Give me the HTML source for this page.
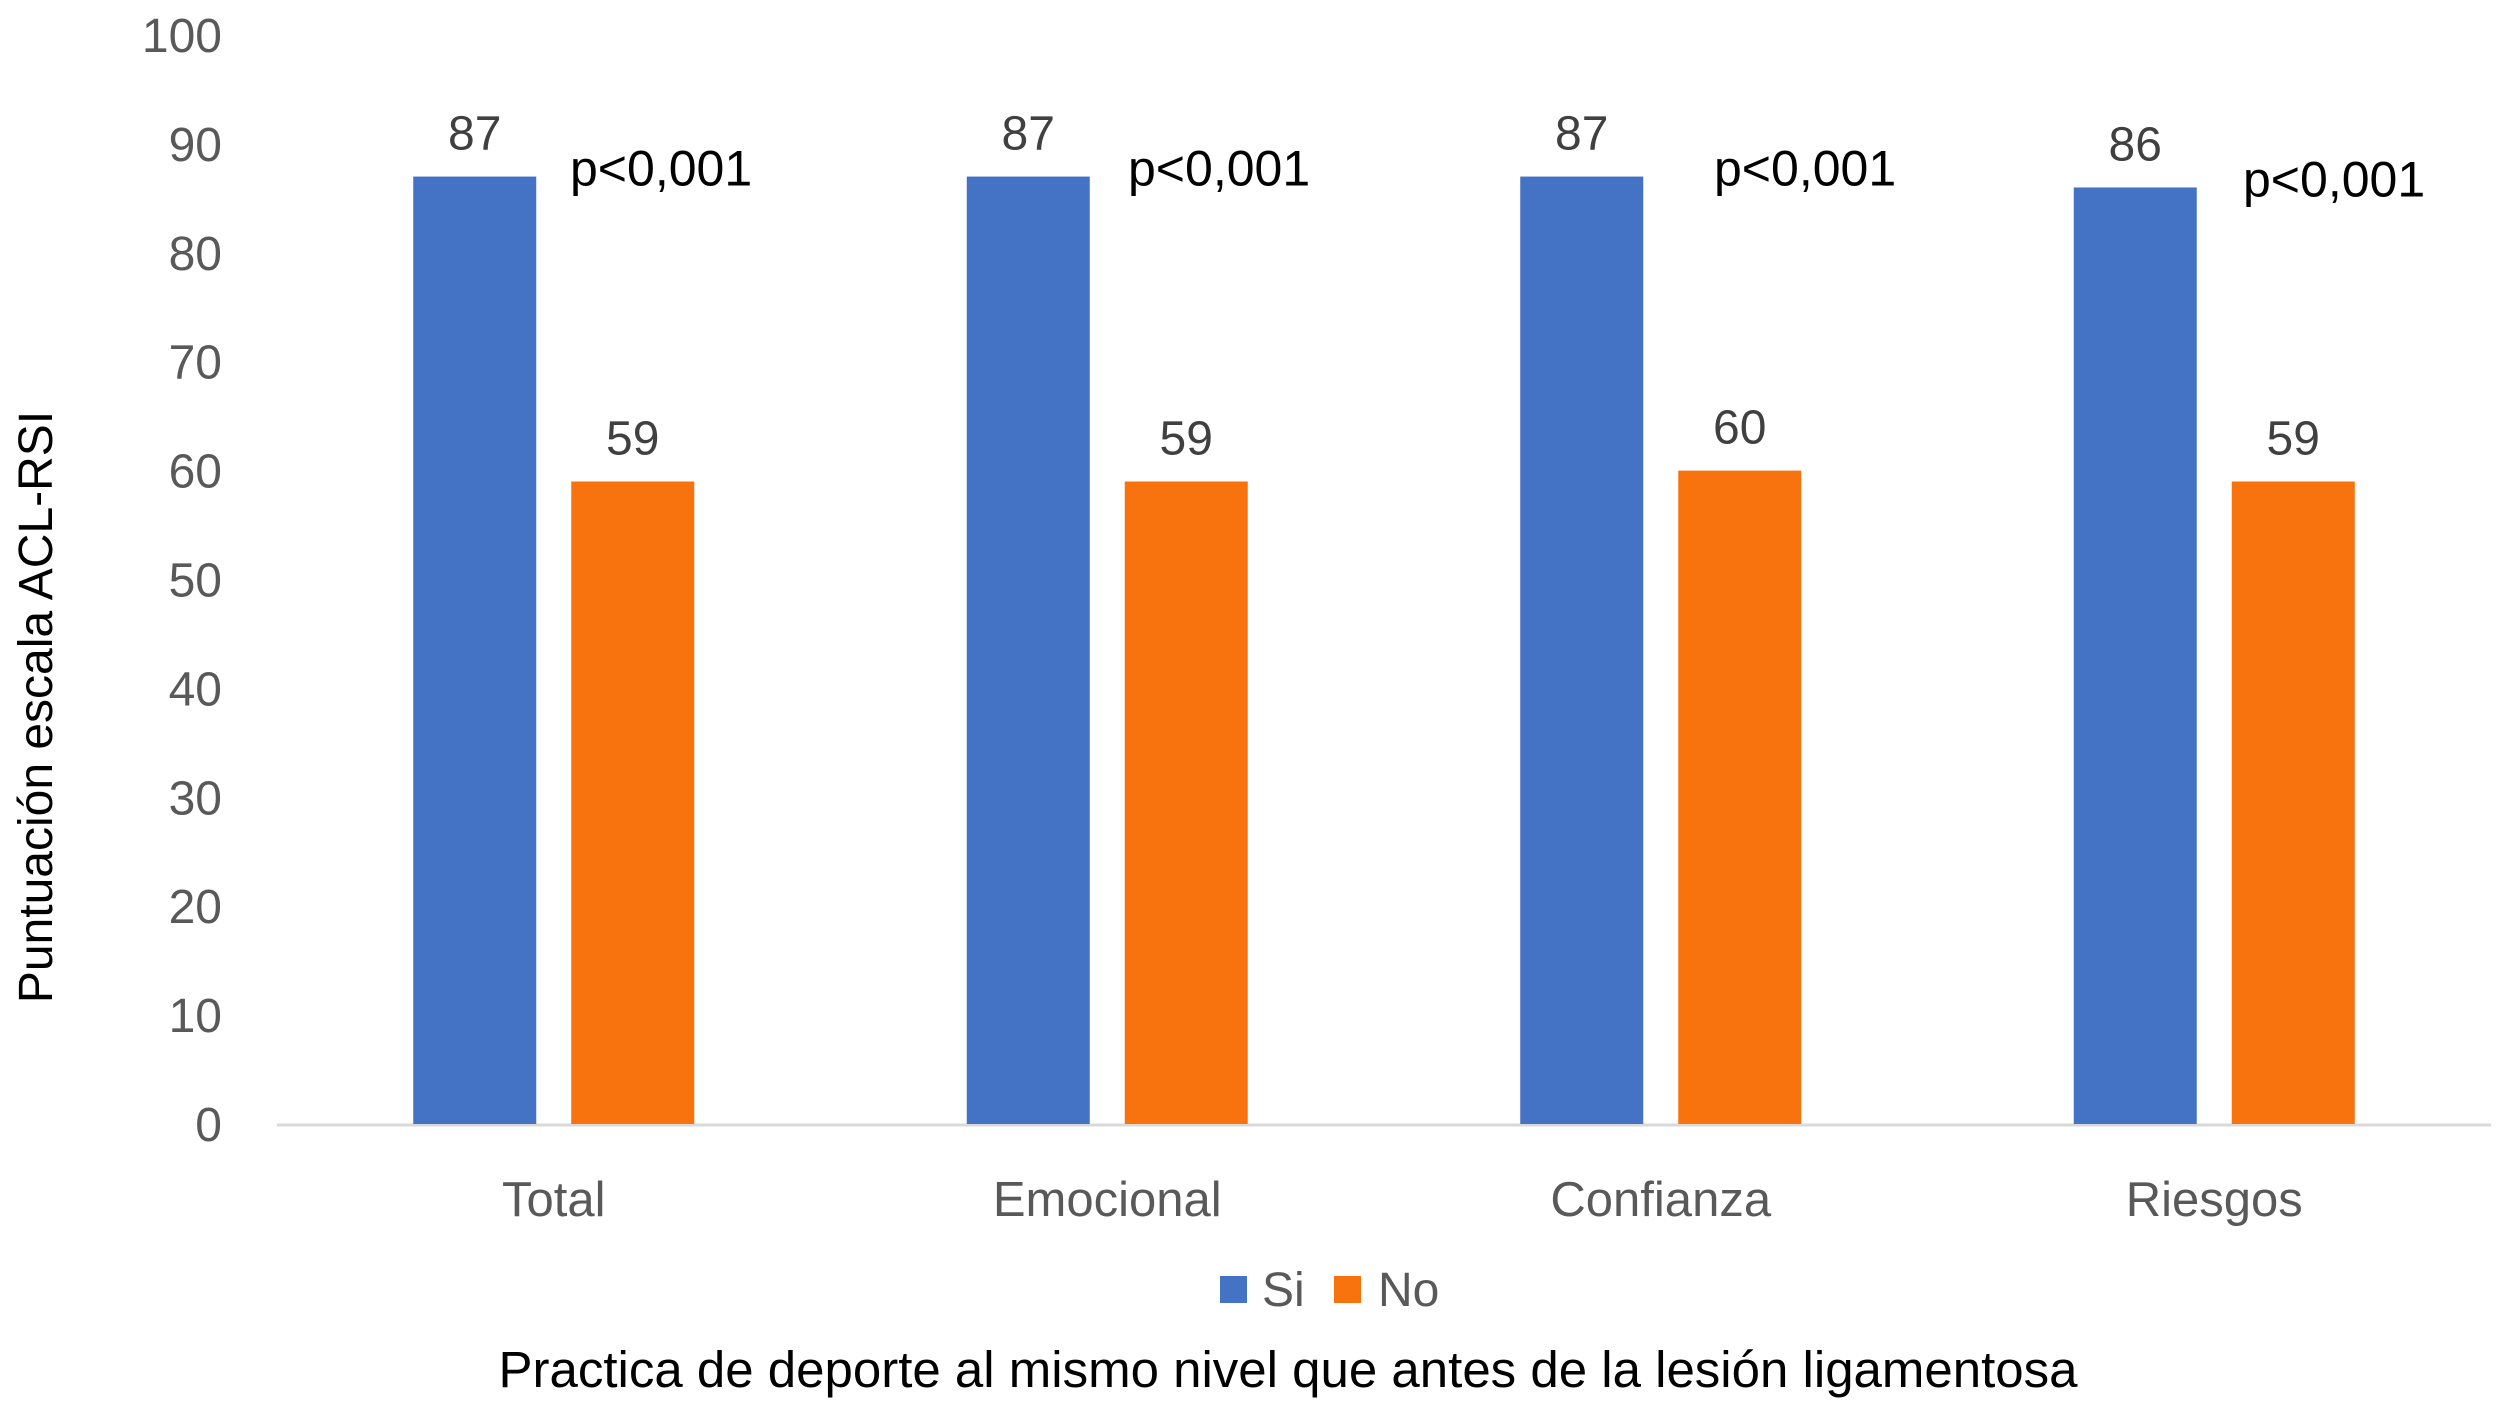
<!DOCTYPE html>
<html><head><meta charset="utf-8"><style>
html,body{margin:0;padding:0;background:#fff}
svg{display:block;font-family:"Liberation Sans",sans-serif}
</style></head><body>
<svg id="chart" width="2508" height="1402" viewBox="0 0 2508 1402" xmlns="http://www.w3.org/2000/svg">
<g id="yticks"></g>
<line x1="277" y1="1125" x2="2491" y2="1125" stroke="#d9d9d9" stroke-width="3"/>
<g id="bars"></g>
<g id="xlabels"></g>
<text transform="translate(52,707) rotate(-90)" text-anchor="middle" font-size="48" fill="#000">Puntuación escala ACL-RSI</text>
<g>
<rect x="1220" y="1276" width="27" height="27" fill="#4472C4"/>
<text x="1262" y="1306" font-size="48" fill="#595959">Si</text>
<rect x="1334" y="1276" width="27" height="27" fill="#F8720D"/>
<text x="1378" y="1306" font-size="48" fill="#595959">No</text>
</g>
<text x="1288" y="1387" text-anchor="middle" font-size="51" fill="#000">Practica de deporte al mismo nivel que antes de la lesión ligamentosa</text>
</svg>
<script>
const categories = ["Total","Emocional","Confianza","Riesgos"];
const siValues = [87,87,87,86];
const noValues = [59,59,60,59];
const pLabels = ["p<0,001","p<0,001","p<0,001","p<0,001"];
const yTicks = [0,10,20,30,40,50,60,70,80,90,100];

const NS="http://www.w3.org/2000/svg";
const plotL=277, plotR=2491, y0=1124, y100=35;
const yScale=v=>y0-(v/100)*(y0-y100);
const catW=(plotR-plotL)/categories.length;
const xCenter=i=>plotL+catW*(i+0.5);
const barW=123, gap=35;
function mk(tag,attrs,parent,txt){const e=document.createElementNS(NS,tag);for(const k in attrs)e.setAttribute(k,attrs[k]);if(txt!=null)e.textContent=txt;parent.appendChild(e);return e;}
const yt=document.getElementById('yticks');
yTicks.forEach(t=>{
  const e=mk('text',{x:222,y:yScale(t)+17,'text-anchor':'end','font-size':48,fill:'#595959'},yt,String(t));
  
  
});
const bars=document.getElementById('bars');
const xl=document.getElementById('xlabels');
categories.forEach((c,i)=>{
  const cx=xCenter(i);
  const sx=cx-gap/2-barW, nx=cx+gap/2;
  const b1=mk('rect',{x:sx,y:yScale(siValues[i]),width:barW,height:y0-yScale(siValues[i]),fill:'#4472C4'},bars);
  
  
  const b2=mk('rect',{x:nx,y:yScale(noValues[i]),width:barW,height:y0-yScale(noValues[i]),fill:'#F8720D'},bars);
  
  
  const l1=mk('text',{x:sx+barW/2,y:yScale(siValues[i])-27,'text-anchor':'middle','font-size':48,fill:'#404040'},bars,String(siValues[i]));
  
  
  const l2=mk('text',{x:nx+barW/2,y:yScale(noValues[i])-27,'text-anchor':'middle','font-size':48,fill:'#404040'},bars,String(noValues[i]));
  
  
  const px=[570,1128,1714,2243][i];
  const p=mk('text',{x:px,y:yScale(siValues[i])+9,'font-size':50,fill:'#000'},bars,pLabels[i]);
  
  
  const xt=mk('text',{x:cx,y:1216,'text-anchor':'middle','font-size':49,fill:'#595959'},xl,c);
  
  
});
</script>
</body></html>
